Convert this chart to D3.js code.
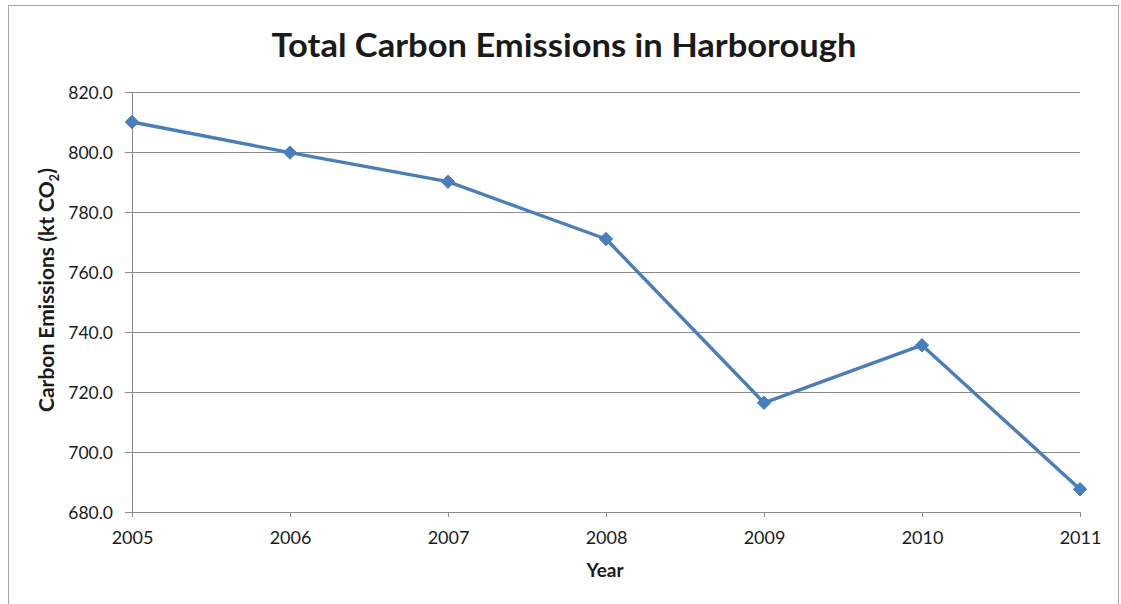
<!DOCTYPE html>
<html>
<head>
<meta charset="utf-8">
<script src="https://cdn.jsdelivr.net/npm/d3@7"></script>
<style>
  body { margin: 0; background: #fff; }
  svg text { font-family: Lato, "Open Sans", sans-serif; fill: #1a1a1a; }
</style>
</head>
<body>
<div id="chart"></div>
<script>
// Chart data
var years = [2005, 2006, 2007, 2008, 2009, 2010, 2011];
var emissions = [810.0, 799.8, 790.1, 771.0, 716.4, 735.6, 687.6];
var yTicks = [680, 700, 720, 740, 760, 780, 800, 820];

var svgWidth = 1121;
var svgHeight = 604;

var margin = { top: 92, right: 41, bottom: 92, left: 132 };
var width = svgWidth - margin.left - margin.right;
var height = svgHeight - margin.top - margin.bottom;

var svg = d3.select("#chart")
  .append("svg")
  .attr("width", svgWidth)
  .attr("height", svgHeight);

// outer chart border
svg.append("rect")
  .attr("x", 8.5).attr("y", 5.5)
  .attr("width", 1110).attr("height", 610)
  .attr("fill", "none")
  .attr("stroke", "#a6a6a6");

var chartGroup = svg.append("g")
  .attr("transform", `translate(${margin.left}, ${margin.top})`);

// Scales
var xScale = d3.scalePoint()
  .domain(years)
  .range([0, width]);

var yScale = d3.scaleLinear()
  .domain([680, 820])
  .range([height, 0]);

// Gridlines
chartGroup.selectAll(".grid")
  .data(yTicks)
  .enter()
  .append("line")
  .attr("x1", 0)
  .attr("x2", width)
  .attr("y1", d => yScale(d) + 0.5)
  .attr("y2", d => yScale(d) + 0.5)
  .attr("stroke", "#8c8c8c")
  .attr("stroke-width", 1);

// Axes
var yAxis = d3.axisLeft(yScale)
  .tickValues(yTicks)
  .tickFormat(d3.format(".1f"))
  .tickSize(7)
  .tickPadding(12);

var xAxis = d3.axisBottom(xScale)
  .tickSize(5)
  .tickPadding(14);

var yg = chartGroup.append("g").call(yAxis);
var xg = chartGroup.append("g")
  .attr("transform", `translate(0, ${height})`)
  .call(xAxis);

[yg, xg].forEach(function(g) {
  g.selectAll("path, line").attr("stroke", "#8c8c8c");
  g.selectAll("text")
    .style("font-family", "Lato, sans-serif")
    .attr("fill", "#1a1a1a");
});
yg.selectAll("text").style("font-size", "17.5px").attr("dy", "0.36em");
xg.selectAll("text").style("font-size", "18px");
yg.select(".domain").attr("d", `M0.5,0V${height}`);
xg.select(".domain").attr("d", `M0,0.5H${width}`);

// Line
var line = d3.line()
  .x((d, i) => xScale(years[i]))
  .y(d => yScale(d));

chartGroup.append("path")
  .datum(emissions)
  .attr("d", line)
  .attr("fill", "none")
  .attr("stroke", "#4a7ebb")
  .attr("stroke-width", 3.4)
  .attr("stroke-linejoin", "round");

// Diamond markers
chartGroup.selectAll(".marker")
  .data(emissions)
  .enter()
  .append("path")
  .attr("d", d3.symbol().type(d3.symbolDiamond2).size(115))
  .attr("transform", (d, i) => `translate(${xScale(years[i])}, ${yScale(d)})`)
  .attr("fill", "#4a7ebb")
  .attr("stroke", "#4a7ebb")
  .attr("stroke-width", 1);

// Title
svg.append("text")
  .attr("x", 564)
  .attr("y", 57)
  .attr("text-anchor", "middle")
  .attr("textLength", 585)
  .attr("lengthAdjust", "spacingAndGlyphs")
  .style("font-size", "32px")
  .style("font-weight", "bold")
  .text("Total Carbon Emissions in Harborough");

// Y axis title
var yTitle = svg.append("text")
  .attr("transform", "translate(54, 290) rotate(-90)")
  .attr("text-anchor", "middle")
  .style("font-size", "21px")
  .style("font-weight", "bold");
yTitle.append("tspan").text("Carbon Emissions (kt CO");
yTitle.append("tspan").attr("dy", 5).style("font-size", "13px").text("2");
yTitle.append("tspan").attr("dy", -5).text(")");

// X axis title
svg.append("text")
  .attr("x", 605)
  .attr("y", 577)
  .attr("text-anchor", "middle")
  .style("font-size", "19px")
  .style("font-weight", "bold")
  .text("Year");
</script>
</body>
</html>
